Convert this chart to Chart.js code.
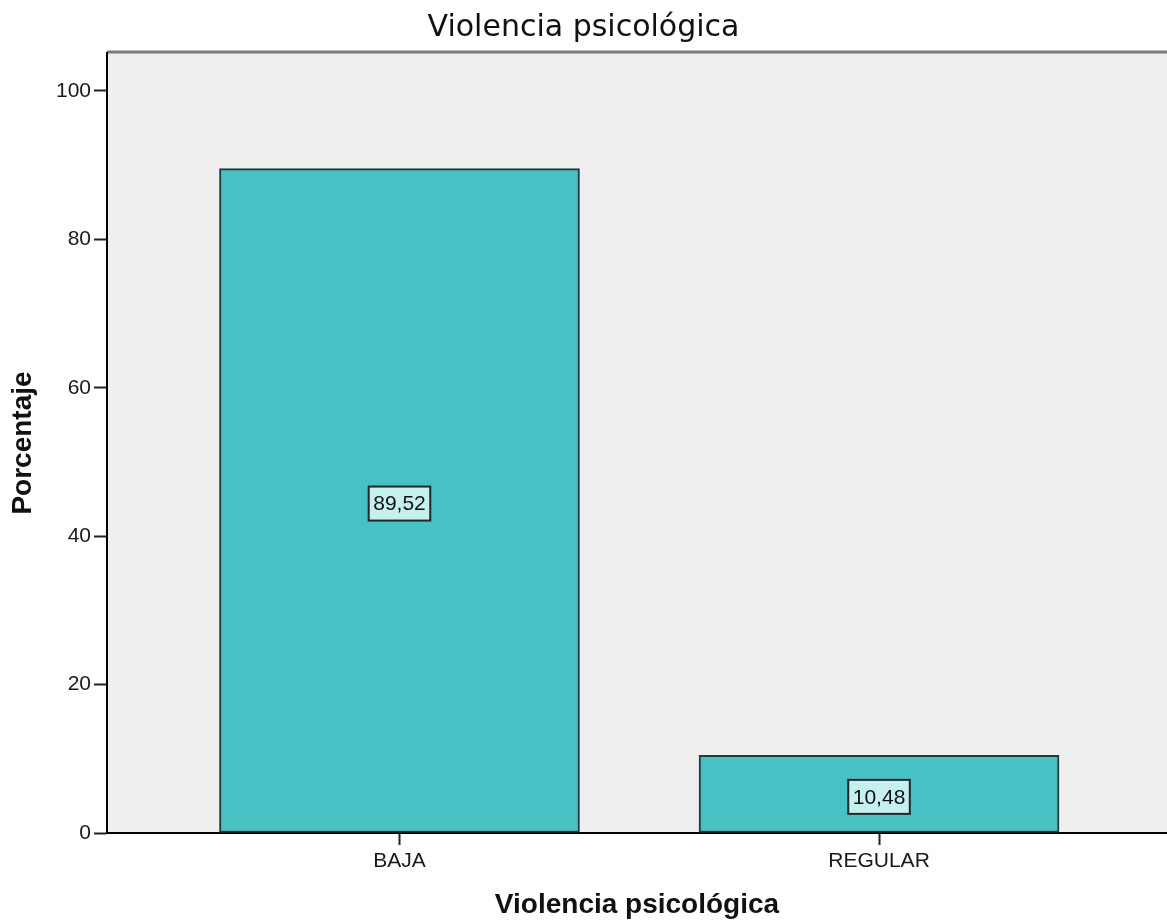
<!DOCTYPE html>
<html>
<head>
<meta charset="utf-8">
<script src="https://cdn.jsdelivr.net/npm/chart.js@4"></script>
<style>
  html, body { margin: 0; padding: 0; background: #ffffff; }
  #wrap { width: 1167px; height: 923px; }
</style>
</head>
<body>
<div id="wrap"><canvas id="c" width="1167" height="923"></canvas></div>
<script>
const categories = ['BAJA', 'REGULAR'];
const percentages = [89.52, 10.48];
const yTicks = [0, 20, 40, 60, 80, 100];
const chartTitle = 'Violencia psicológica';
const xTitle = 'Violencia psicológica';
const yTitle = 'Porcentaje';

const fontMain = 'Liberation Sans, Arial, sans-serif';

const plotBg = {
  id: 'plotBg',
  beforeDraw(chart) {
    const { ctx, chartArea: a } = chart;
    ctx.save();
    ctx.fillStyle = '#efefef';
    ctx.fillRect(a.left, a.top, a.right - a.left, a.bottom - a.top);
    ctx.strokeStyle = '#7a7a7a';
    ctx.lineWidth = 3;
    ctx.beginPath();
    ctx.moveTo(a.left, a.top - 1);
    ctx.lineTo(a.right, a.top - 1);
    ctx.stroke();
    ctx.restore();
  }
};

const valueBoxes = {
  id: 'valueBoxes',
  afterDatasetsDraw(chart) {
    const { ctx } = chart;
    const meta = chart.getDatasetMeta(0);
    ctx.save();
    ctx.font = '21px ' + fontMain;
    ctx.textAlign = 'center';
    ctx.textBaseline = 'middle';
    meta.data.forEach((bar, i) => {
      const txt = percentages[i].toFixed(2).replace('.', ',');
      const w = ctx.measureText(txt).width + 9;
      const h = 34;
      const cx = bar.x;
      const cy = (bar.y + bar.base) / 2 + 3;
      ctx.fillStyle = '#c6efef';
      ctx.fillRect(cx - w / 2, cy - h / 2, w, h);
      ctx.strokeStyle = '#1e2a2a';
      ctx.lineWidth = 2;
      ctx.strokeRect(cx - w / 2, cy - h / 2, w, h);
      ctx.fillStyle = '#111111';
      ctx.fillText(txt, cx, cy + 1);
    });
    ctx.restore();
  }
};

new Chart(document.getElementById('c'), {
  type: 'bar',
  data: {
    datasets: [{
      data: categories.map((c, i) => ({ x: i, y: percentages[i] })),
      backgroundColor: '#48c1c5',
      borderColor: '#26393a',
      borderWidth: 2,
      borderSkipped: false,
      barThickness: 360
    }]
  },
  options: {
    responsive: false,
    animation: false,
    layout: { padding: { left: 0, right: 0, top: 0, bottom: 0 } },
    plugins: {
      legend: { display: false },
      tooltip: { enabled: false },
      title: {
        display: true,
        text: chartTitle,
        color: '#111111',
        font: { family: 'DejaVu Sans, sans-serif', size: 30, weight: 'normal' },
        padding: { top: 10, bottom: 7 }
      }
    },
    scales: {
      x: {
        type: 'linear',
        min: -0.6099,
        max: 1.6005,
        offset: false,
        afterBuildTicks(scale) { scale.ticks = categories.map((c, i) => ({ value: i })); },
        afterFit(scale) { scale.height = 90; },
        grid: { display: true, drawOnChartArea: false, offset: false, tickLength: 12, tickWidth: 2, tickColor: '#222222' },
        border: { display: true, color: '#000000', width: 2 },
        ticks: {
          color: '#1a1a1a',
          font: { family: fontMain, size: 21 },
          padding: 4,
          maxRotation: 0,
          callback(v) { return categories[v]; }
        },
        title: {
          display: true,
          text: xTitle,
          color: '#111111',
          font: { family: fontMain, size: 28, weight: 'bold' },
          padding: { top: 0, bottom: 1 }
        }
      },
      y: {
        min: 0,
        max: 105.1,
        afterBuildTicks(scale) { scale.ticks = yTicks.map(v => ({ value: v })); },
        afterFit(scale) { scale.width = 107; },
        grid: { display: true, drawOnChartArea: false, tickLength: 13, tickWidth: 2, tickColor: '#222222' },
        border: { display: true, color: '#000000', width: 2 },
        ticks: {
          color: '#1a1a1a',
          font: { family: fontMain, size: 21 },
          padding: 3
        },
        title: {
          display: true,
          text: yTitle,
          color: '#111111',
          font: { family: fontMain, size: 28, weight: 'bold' },
          padding: { top: 6, bottom: 0 }
        }
      }
    }
  },
  plugins: [plotBg, valueBoxes]
});
</script>
</body>
</html>
